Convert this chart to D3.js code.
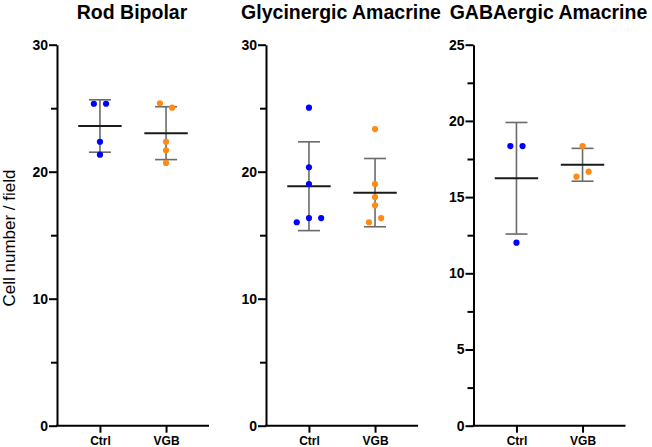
<!DOCTYPE html>
<html>
<head>
<meta charset="utf-8">
<script src="https://cdn.jsdelivr.net/npm/d3@7"></script>
<style>
  html, body { margin: 0; padding: 0; background: #fff; }
  svg { display: block; }
  text { font-family: "Liberation Sans", Arial, Helvetica, sans-serif; }
</style>
</head>
<body>
<svg id="chart" width="652" height="447"></svg>
<script>
// ---- Data ----
const categories = ["Ctrl", "VGB"];
const panelTitles = ["Rod Bipolar", "Glycinergic Amacrine", "GABAergic Amacrine"];
const yLabel = "Cell number / field";

const rodCtrl = [25.35, 25.35, 22.36, 21.34];
const rodVGB = [25.39, 25.04, 22.36, 21.69, 20.69];
const glyCtrl = [25.04, 20.35, 19.03, 16.02, 16.35, 16.35];
const glyVGB = [23.36, 19.03, 18.0, 17.35, 16.02, 16.35];
const gabaCtrl = [18.35, 18.35, 12.01];
const gabaVGB = [18.35, 16.34, 16.67];

const yMax = [30, 30, 25];
const majorTicks = [[0, 10, 20, 30], [0, 10, 20, 30], [0, 5, 10, 15, 20, 25]];
const minorTicks = [[5, 15, 25], [5, 15, 25], [2.5, 7.5, 12.5, 17.5, 22.5]];

const seriesColors = ["#0000ff", "#ff8a14"];

// ---- Layout ----
const svg = d3.select("#chart");
const panelLeft = [57, 266, 473.5];
const panelW = 152;
const plotTop = 44.7, plotBottom = 425.7;

const panels = [
  [rodCtrl, rodVGB],
  [glyCtrl, glyVGB],
  [gabaCtrl, gabaVGB]
];

// simple beeswarm: points closer than minGap px vertically are spread horizontally
function swarmOffsets(vals, y, minGap, spacing) {
  const idx = vals.map((v, i) => i).sort((a, b) => vals[b] - vals[a]);
  const offs = new Array(vals.length).fill(0);
  let cluster = [];
  const flush = () => {
    const c = cluster.slice().sort((a, b) => a - b);
    c.forEach((ii, k) => { offs[ii] = (k - (c.length - 1) / 2) * spacing; });
    cluster = [];
  };
  idx.forEach(i => {
    if (cluster.length && Math.abs(y(vals[i]) - y(vals[cluster[0]])) >= minGap) flush();
    cluster.push(i);
  });
  if (cluster.length) flush();
  return offs;
}

panels.forEach((groups, p) => {
  const g = svg.append("g").attr("transform", `translate(${panelLeft[p]},0)`);
  const x = d3.scalePoint().domain(categories).range([0, panelW]).padding(0.65);
  const y = d3.scaleLinear().domain([0, yMax[p]]).range([plotBottom, plotTop]);

  // title
  svg.append("text")
    .attr("x", panelLeft[p] + panelW / 2 - 1)
    .attr("y", 19)
    .attr("text-anchor", "middle")
    .attr("font-weight", "bold")
    .attr("font-size", "19.5px")
    .attr("fill", "#000")
    .text(panelTitles[p]);

  // minor ticks
  const minorAx = g.append("g")
    .call(d3.axisLeft(y).tickValues(minorTicks[p]).tickSize(6).tickFormat(""));
  minorAx.select(".domain").remove();
  minorAx.selectAll(".tick line").attr("stroke", "#000").attr("stroke-width", 2);

  // y axis
  const yAx = g.append("g")
    .call(d3.axisLeft(y).tickValues(majorTicks[p]).tickSize(8).tickSizeOuter(0).tickPadding(1));
  yAx.select(".domain").attr("stroke", "#000").attr("stroke-width", 2);
  yAx.selectAll(".tick line").attr("stroke", "#000").attr("stroke-width", 2);
  yAx.selectAll(".tick text")
    .attr("font-size", "14px").attr("font-weight", "bold").attr("fill", "#000")
    .style("font-family", '"Liberation Sans", Arial, sans-serif');

  // x axis
  const xAx = g.append("g").attr("transform", `translate(0,${plotBottom})`)
    .call(d3.axisBottom(x).tickSize(7).tickSizeOuter(0).tickPadding(3.3));
  xAx.select(".domain").attr("stroke", "#000").attr("stroke-width", 2)
    .attr("d", `M-1,0H${panelW}`);
  xAx.selectAll(".tick line").attr("stroke", "#000").attr("stroke-width", 2);
  xAx.selectAll(".tick text")
    .attr("font-size", "12px").attr("font-weight", "bold").attr("fill", "#000")
    .style("font-family", '"Liberation Sans", Arial, sans-serif');

  groups.forEach((vals, s) => {
    const cx = x(categories[s]);
    const m = d3.mean(vals);
    const sd = d3.deviation(vals);
    const eb = g.append("g");
    eb.append("line")
      .attr("x1", cx).attr("x2", cx)
      .attr("y1", y(m + sd)).attr("y2", y(m - sd))
      .attr("stroke", "#6a6a6a").attr("stroke-width", 1.6);
    [m + sd, m - sd].forEach(v => {
      eb.append("line")
        .attr("x1", cx - 11).attr("x2", cx + 11)
        .attr("y1", y(v)).attr("y2", y(v))
        .attr("stroke", "#6a6a6a").attr("stroke-width", 1.6);
    });
    eb.append("line")
      .attr("x1", cx - 21.7).attr("x2", cx + 21.7)
      .attr("y1", y(m)).attr("y2", y(m))
      .attr("stroke", "#1a1a1a").attr("stroke-width", 2);

    const offs = swarmOffsets(vals, y, 7, 12.2);
    g.append("g").selectAll("circle")
      .data(vals)
      .join("circle")
      .attr("cx", (d, i) => cx + offs[i])
      .attr("cy", d => y(d))
      .attr("r", 3.1)
      .attr("fill", seriesColors[s]);
  });
});

// y axis label
svg.append("text")
  .attr("transform", `translate(15,238) rotate(-90)`)
  .attr("text-anchor", "middle")
  .attr("font-size", "17px")
  .attr("fill", "#000")
  .text(yLabel);
</script>
</body>
</html>
